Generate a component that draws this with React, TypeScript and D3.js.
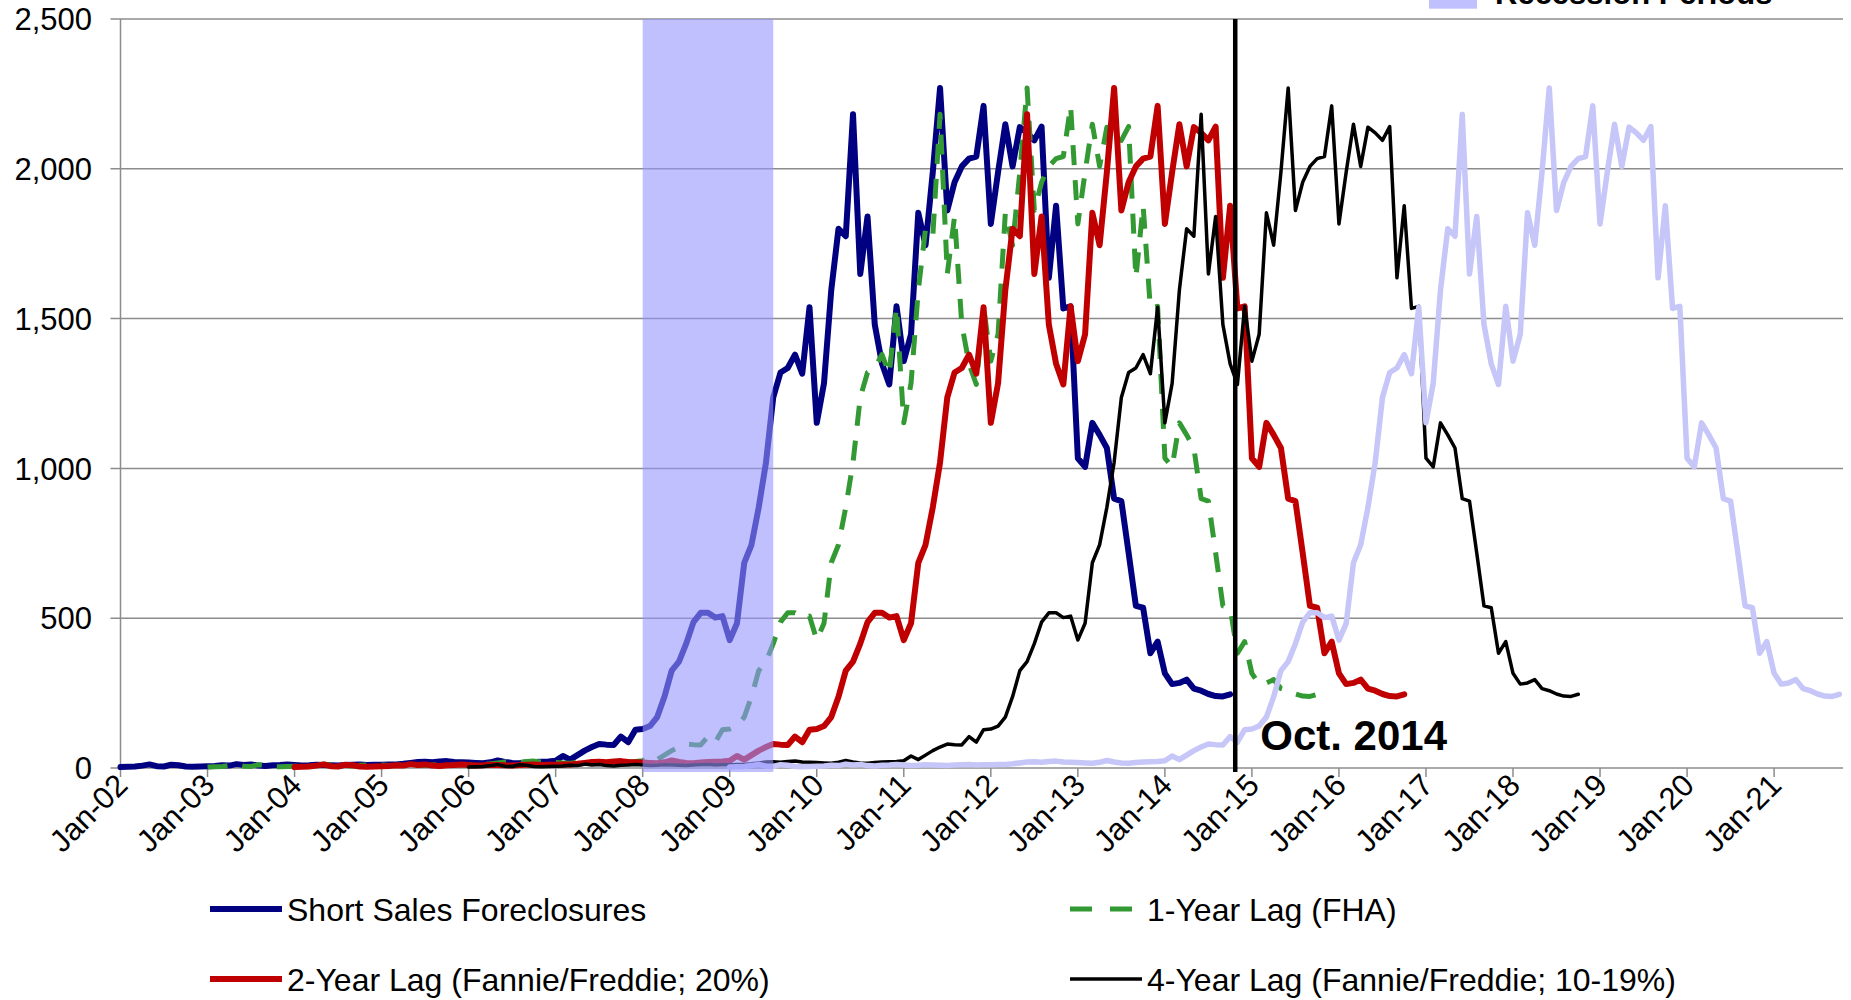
import React from 'react';
import * as d3 from 'd3';

const WIDTH = 1851;
const HEIGHT = 1000;

// Monthly values, Jan-02 .. Oct-14 (index 0 = Jan-02)
const shortSalesForeclosures: number[] = [
  // 2002
  3, 4, 5, 8, 12, 6, 5, 11, 9, 5, 4, 5,
  // 2003
  6, 7, 9, 8, 13, 10, 12, 8, 7, 9, 10, 12,
  // 2004
  10, 8, 9, 11, 10, 9, 8, 10, 11, 12, 10, 11,
  // 2005
  11, 12, 12, 14, 17, 20, 21, 19, 22, 23, 20, 19,
  // 2006
  18, 17, 16, 19, 25, 20, 17, 16, 18, 20, 21, 22,
  // 2007
  24, 40, 28, 43, 58, 70, 80, 78, 77, 105, 86, 128,
  // 2008
  130, 140, 170, 238, 325, 355, 415, 487, 518, 518, 502, 507,
  // 2009
  427, 483, 685, 745, 870, 1020, 1237, 1320, 1335, 1380, 1316, 1538,
  // 2010
  1152, 1284, 1595, 1800, 1775, 2182, 1649, 1841, 1480, 1349, 1280, 1541,
  // 2011
  1358, 1448, 1853, 1745, 1989, 2270, 1861, 1955, 2008, 2034, 2041, 2210,
  // 2012
  1816, 1989, 2149, 2008, 2139, 2120, 2095, 2141, 1636, 1877, 1534, 1541,
  // 2013
  1034, 1005, 1152, 1112, 1068, 899, 891, 718, 541, 535, 383, 422,
  // 2014
  316, 280, 284, 295, 265, 258, 247, 240, 239, 246,
];

const seriesNames = [
  'Short Sales Foreclosures',
  '1-Year Lag (FHA)',
  '2-Year Lag (Fannie/Freddie; 20%)',
  '4-Year Lag (Fannie/Freddie; 10-19%)',
  '7-Year Lag',
];
const seriesLagMonths = [0, 12, 24, 48, 84];

const xTickLabels = [
  'Jan-02', 'Jan-03', 'Jan-04', 'Jan-05', 'Jan-06', 'Jan-07', 'Jan-08',
  'Jan-09', 'Jan-10', 'Jan-11', 'Jan-12', 'Jan-13', 'Jan-14', 'Jan-15',
  'Jan-16', 'Jan-17', 'Jan-18', 'Jan-19', 'Jan-20', 'Jan-21',
];
const yTickValues = [0, 500, 1000, 1500, 2000, 2500];

const recessionMonths = [72, 90]; // Jan-08 .. Jun-09
const markerMonth = 153.7; // Oct. 2014
const markerLabel = 'Oct. 2014';
const recessionLabel = 'Recession Periods';

const seriesStyles = [
  { color: '#000080', width: 6, dash: undefined as string | undefined },
  { color: '#339933', width: 5, dash: '20 15' },
  { color: '#c00000', width: 6, dash: undefined },
  { color: '#000000', width: 3.5, dash: undefined },
  { color: '#c6c6f9', width: 5.5, dash: undefined },
];

const FONT = "'Liberation Sans', Arial, Helvetica, sans-serif";
const GRID = '#8c8c8c';
const BAND_FILL = 'rgb(150,150,255)';
const BAND_OPACITY = 0.6;

export default function App() {
  const plotLeft = 120.5;
  const plotRight = 1843;
  const plotTop = 19;
  const plotBottom = 768;

  const x = d3.scaleLinear().domain([0, 237.5]).range([plotLeft, plotRight]);
  const y = d3.scaleLinear().domain([0, 2500]).range([plotBottom, plotTop]);

  const makeLine = (lag: number) =>
    d3
      .line<number>()
      .x((_, i) => x(i + lag))
      .y((d) => y(d));

  const legendRows = [
    { idx: 0, lx: 210, tx: 287, ly: 909 },
    { idx: 1, lx: 1070, tx: 1147, ly: 909 },
    { idx: 2, lx: 210, tx: 287, ly: 979 },
    { idx: 3, lx: 1070, tx: 1147, ly: 979 },
  ];

  return (
    <svg
      width={WIDTH}
      height={HEIGHT}
      style={{ position: 'absolute', left: 0, top: 0, background: '#fff' }}
      fontFamily={FONT}
    >
      <rect x={0} y={0} width={WIDTH} height={HEIGHT} fill="#fff" />

      {/* gridlines + y ticks */}
      {yTickValues.map((v) => (
        <g key={v}>
          <line
            x1={plotLeft - 10}
            x2={v === 0 ? plotLeft : plotRight}
            y1={y(v)}
            y2={y(v)}
            stroke={GRID}
            strokeWidth={1.5}
          />
          <text
            x={92}
            y={y(v)}
            dy="0.36em"
            textAnchor="end"
            fontSize={31}
            fill="#000"
          >
            {d3.format(',')(v)}
          </text>
        </g>
      ))}

      {/* axes */}
      <line x1={plotLeft} x2={plotLeft} y1={plotTop} y2={plotBottom} stroke={GRID} strokeWidth={1.5} />
      <line x1={plotLeft} x2={plotRight} y1={plotBottom} y2={plotBottom} stroke={GRID} strokeWidth={1.5} />
      {xTickLabels.map((lab, i) => (
        <g key={lab}>
          <line
            x1={x(i * 12)}
            x2={x(i * 12)}
            y1={plotBottom}
            y2={plotBottom + 9}
            stroke={GRID}
            strokeWidth={1.5}
          />
          <text
            transform={`translate(${x(i * 12) + 9},${plotBottom + 19}) rotate(-45)`}
            textAnchor="end"
            fontSize={31}
            fill="#000"
          >
            {lab}
          </text>
        </g>
      ))}

      {/* series */}
      {seriesLagMonths.map((lag, si) => {
        const st = seriesStyles[si];
        return (
          <path
            key={seriesNames[si]}
            d={makeLine(lag)(shortSalesForeclosures) || ''}
            fill="none"
            stroke={st.color}
            strokeWidth={st.width}
            strokeDasharray={st.dash}
            strokeLinejoin="round"
            strokeLinecap={st.dash ? 'butt' : 'round'}
          />
        );
      })}

      {/* recession band */}
      <rect
        x={x(recessionMonths[0])}
        y={y(2500)}
        width={x(recessionMonths[1]) - x(recessionMonths[0])}
        height={y(0) - y(2500) + 4}
        fill={BAND_FILL}
        opacity={BAND_OPACITY}
      />

      {/* Oct. 2014 marker */}
      <line
        x1={x(markerMonth)}
        x2={x(markerMonth)}
        y1={y(2500)}
        y2={y(0) + 4}
        stroke="#000"
        strokeWidth={4.5}
      />
      <text x={x(markerMonth) + 25} y={750} fontSize={42} fontWeight="bold" fill="#000">
        {markerLabel}
      </text>

      {/* legend */}
      {legendRows.map((r) => {
        const st = seriesStyles[r.idx];
        return (
          <g key={r.idx}>
            <line
              x1={r.lx}
              x2={r.lx + 72}
              y1={r.ly}
              y2={r.ly}
              stroke={st.color}
              strokeWidth={st.width}
              strokeDasharray={st.dash ? '22 18' : undefined}
            />
            <text x={r.tx} y={r.ly} dy="0.36em" fontSize={32} fill="#000">
              {seriesNames[r.idx]}
            </text>
          </g>
        );
      })}
      <rect x={1429} y={-12} width={48} height={20.7} fill={BAND_FILL} opacity={BAND_OPACITY} />
      <text x={1495} y={3.5} fontSize={31} fontWeight="bold" fill="#000">
        {recessionLabel}
      </text>
    </svg>
  );
}
